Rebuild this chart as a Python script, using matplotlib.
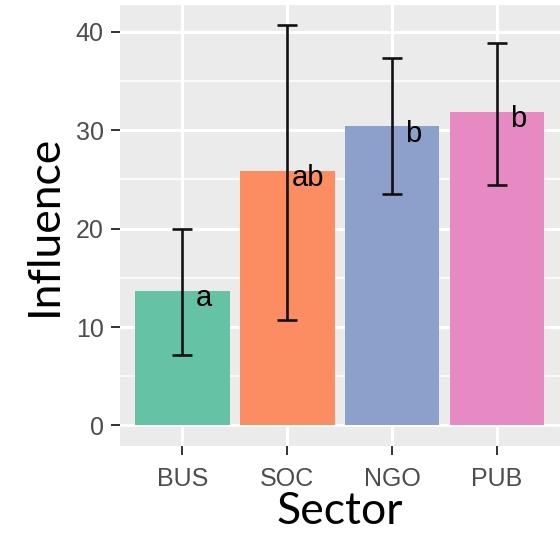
import numpy as np
import matplotlib
matplotlib.use('Agg')
import matplotlib.pyplot as plt

sectors = ['BUS', 'SOC', 'NGO', 'PUB']
influence = [13.7, 25.9, 30.4, 31.9]
err_low = [7.2, 10.7, 23.5, 24.4]
err_high = [20.0, 40.7, 37.3, 38.9]
letters = ['a', 'ab', 'b', 'b']
colors = ['#66C2A5', '#FC8D62', '#8DA0CB', '#E78AC3']

fig = plt.figure(figsize=(5.6, 5.33), dpi=100)
ax = fig.add_axes([119.5/560, (533-445.5)/533, (560-119.5)/560, (445.5-5)/533])
ax.set_facecolor('#EBEBEB')

x = np.arange(1, len(sectors) + 1)
infl = np.array(influence)
lo = infl - np.array(err_low)
hi = np.array(err_high) - infl

# grid like ggplot
for v in [5, 15, 25, 35]:
    ax.axhline(v, color='white', lw=1.1, zorder=0)
for v in [0, 10, 20, 30, 40]:
    ax.axhline(v, color='white', lw=2.2, zorder=0)
for xi in x:
    ax.axvline(xi, color='white', lw=2.2, zorder=0)

ax.bar(x, infl, width=0.9, color=colors, zorder=2)
ax.errorbar(x, infl, yerr=[lo, hi], fmt='none', ecolor='#111111',
            elinewidth=1.9, capsize=7.5, capthick=1.9, zorder=3)
for xi, v, t in zip(x, infl, letters):
    ax.text(xi + 0.2, v - 1.55, t, ha='center', va='baseline',
            fontsize=21, family='Liberation Sans', color='black', zorder=4)

top = max(err_high)
ax.set_xlim(0.4, 4.6)
ax.set_ylim(-0.05*top, top*1.05)
ax.set_xticks(x)
ax.set_xticklabels(sectors)
ax.set_yticks([0, 10, 20, 30, 40])
for s in ax.spines.values():
    s.set_visible(False)
ax.tick_params(length=6.5, width=1.4, color='#333333', labelcolor='#4D4D4D',
               labelsize=18, pad=5)
ax.tick_params(axis='x', pad=9)
for lab in ax.get_xticklabels() + ax.get_yticklabels():
    lab.set_family('Liberation Sans')

ax.set_xlabel('Sector', family='Lato', fontsize=32, labelpad=0)
ax.set_ylabel('Influence', family='Lato', fontsize=32, labelpad=8)

fig.savefig('out.png', dpi=100)
